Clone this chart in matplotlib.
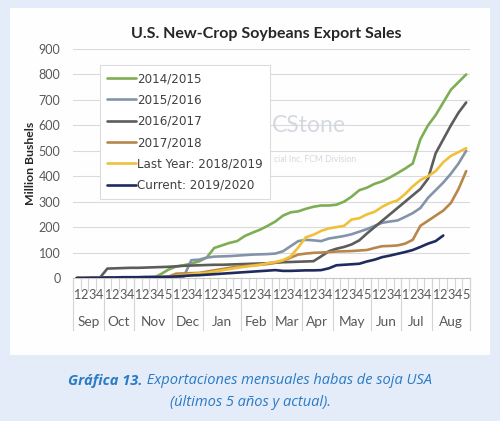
import matplotlib
matplotlib.use("Agg")
import matplotlib.pyplot as plt
import matplotlib.transforms as mtransforms
from matplotlib.patches import Rectangle
import numpy as np

months = ["Sep", "Oct", "Nov", "Dec", "Jan", "Feb", "Mar", "Apr", "May", "Jun", "Jul", "Aug"]
weeks_per_month = [4, 4, 5, 4, 5, 4, 4, 4, 5, 4, 4, 5]

s2014 = [0, 0, 0, 0, 0, 0, 0, 0, 0, 0, 0, 15, 33, 45, 50, 57, 65, 80, 118, 128,
         138, 145, 165, 178, 190, 205, 222, 245, 258, 262, 272, 280, 285, 285, 288, 300,
         320, 345, 355, 370, 380, 395, 412, 430, 450, 545, 600, 640, 690, 740, 770, 800]
s2015 = [0, 0, 0, 0, 2, 2, 3, 3, 3, 3, 4, 4, 5, 5, 5, 70, 72, 80, 84, 85,
         86, 88, 90, 92, 93, 94, 96, 105, 125, 145, 150, 148, 145, 155, 160, 165,
         172, 182, 192, 205, 217, 222, 226, 240, 255, 275, 315, 345, 375, 410, 450, 500]
s2016 = [0, 0, 0, 0, 37, 38, 39, 40, 40, 41, 42, 43, 44, 46, 48, 49, 50, 51, 52, 52,
         53, 54, 55, 56, 57, 58, 60, 62, 63, 64, 65, 66, 85, 105, 115, 122,
         132, 148, 175, 200, 225, 250, 275, 300, 325, 350, 390, 490, 545, 600, 650, 690]
s2017 = [0, 0, 0, 0, 0, 1, 1, 1, 2, 2, 3, 3, 5, 17, 18, 19, 20, 25, 30, 35,
         40, 44, 47, 50, 52, 55, 60, 68, 80, 92, 96, 99, 100, 102, 104, 105,
         106, 108, 110, 118, 125, 126, 128, 135, 150, 205, 225, 245, 265, 295, 350, 420]
s2018 = [0, 0, 0, 0, 0, 0, 0, 1, 1, 2, 3, 4, 5, 8, 12, 15, 18, 20, 25, 30,
         35, 40, 44, 48, 52, 58, 63, 70, 85, 120, 160, 170, 185, 195, 200, 205,
         230, 235, 250, 260, 280, 295, 305, 330, 360, 385, 400, 420, 455, 480, 495, 510]
s2019 = [0, 0, 1, 1, 2, 2, 3, 3, 3, 4, 4, 4, 5, 6, 8, 10, 11, 13, 15, 17,
         19, 21, 23, 25, 27, 29, 31, 28, 28, 29, 30, 30, 31, 38, 50, 52,
         54, 56, 65, 72, 82, 88, 95, 102, 110, 122, 135, 145, 167]

series = [
    ("2014/2015", s2014, "#7dae55"),
    ("2015/2016", s2015, "#8394aa"),
    ("2016/2017", s2016, "#5c5c5c"),
    ("2017/2018", s2017, "#b8864a"),
    ("Last Year: 2018/2019", s2018, "#f0c03a"),
    ("Current: 2019/2020", s2019, "#1f2a5e"),
]

W, H = 500, 421
fig = plt.figure(figsize=(W / 100, H / 100), dpi=100)
fig.patch.set_facecolor("#e3ecf8")
fig.patches.append(Rectangle((10 / W, 1 - 355 / H), 480 / W, 347 / H,
                             transform=fig.transFigure, facecolor="#fefeff",
                             edgecolor="none", zorder=-10))

ax = fig.add_axes([73 / W, 1 - 278 / H, 397 / W, 229 / H])
ax.set_facecolor("none")
ax.set_zorder(2)

n = sum(weeks_per_month)
for label, vals, col in series:
    ax.plot(np.arange(len(vals)), vals, color=col, lw=1.9, label=label, zorder=3,
            solid_capstyle="round")

ax.set_xlim(-0.5, n - 0.5)
ax.set_ylim(0, 900)
ax.set_yticks(np.arange(0, 901, 100))
ax.tick_params(axis="y", length=0, labelsize=9, labelcolor="#595959", pad=9)
for t in ax.get_yticklabels():
    t.set_fontfamily("Lato")
ax.grid(axis="y", color="#dadada", lw=0.8)
ax.set_axisbelow(True)
for sp in ["top", "right", "left"]:
    ax.spines[sp].set_visible(False)
ax.spines["bottom"].set_color("#c8c8c8")

# two-level category axis
week_labels = []
for m, k in zip(months, weeks_per_month):
    week_labels += [str(j + 1) for j in range(k)]
ax.set_xticks(np.arange(n))
ax.set_xticklabels(week_labels, fontsize=9.2, color="#595959", family="Lato")
ax.tick_params(axis="x", length=0, pad=8)

trans = mtransforms.blended_transform_factory(ax.transData, ax.transAxes)
px = 1 / 229
for b in np.arange(n + 1) - 0.5:
    ax.plot([b, b], [0, -12 * px], transform=trans, color="#d4d4d4", lw=0.8,
            clip_on=False)
edges = np.concatenate([[0], np.cumsum(weeks_per_month)]) - 0.5
for b in edges:
    ax.plot([b, b], [0, -52 * px], transform=trans, color="#d4d4d4", lw=0.8,
            clip_on=False)
for i, m in enumerate(months):
    c = (edges[i] + edges[i + 1]) / 2
    ax.text(c, -44 * px, m, transform=trans, ha="center", va="center",
            fontsize=9.8, color="#595959", family="Lato")

ax.set_ylabel("Million Bushels", fontsize=8.8, fontweight="bold", family="Lato",
              color="#262626", labelpad=2)

fig.text(266 / W, 1 - 34 / H, "U.S. New-Crop Soybeans Export Sales",
         ha="center", va="center", fontsize=11.5, fontweight="bold",
         family="Lato", color="#262626")

# faint watermark (the part visible beside the legend)
ax.text(272 / W, 1 - 125 / H, "CStone", transform=fig.transFigure,
        ha="left", va="center", fontsize=16.5, color="#d4d8df", family="Lato",
        zorder=1)
ax.text(274 / W, 1 - 160 / H, "cial Inc. FCM Division",
        transform=fig.transFigure, ha="left", va="center", fontsize=6.2,
        color="#d4d8df", family="Lato", zorder=1)

leg = ax.legend(loc="upper left", bbox_to_anchor=((100 - 73) / 397, (278 - 65) / 229),
                frameon=True, fancybox=False, framealpha=1, borderaxespad=0,
                edgecolor="#dcdcdc", handlelength=2.4, handletextpad=0.1,
                labelspacing=0.7, borderpad=0.6,
                prop={"family": "DejaVu Sans", "size": 8.6})
leg.set_zorder(5)
for t in leg.get_texts():
    t.set_color("#404040")
leg.get_frame().set_linewidth(0.8)

# caption
cap_col = "#2a7ac6"
r = fig.canvas.get_renderer()
t1 = fig.text(0, 1 - 381 / H, "Gráfica 13.", fontsize=10.5, fontweight="bold",
              style="italic", family="Open Sans", color=cap_col, va="center")
t2 = fig.text(0, 1 - 381 / H, " Exportaciones mensuales habas de soja USA",
              fontsize=10.5, style="italic", family="Open Sans", color=cap_col,
              va="center")
w1 = t1.get_window_extent(r).width
w2 = t2.get_window_extent(r).width
x0 = (W - (w1 + w2)) / 2
t1.set_x(x0 / W)
t2.set_x((x0 + w1) / W)
fig.text(0.5, 1 - 403 / H, "(últimos 5 años y actual).", fontsize=10.5,
         style="italic", family="Open Sans", color=cap_col, ha="center", va="center")

fig.savefig("out.png", dpi=100, facecolor=fig.get_facecolor())
